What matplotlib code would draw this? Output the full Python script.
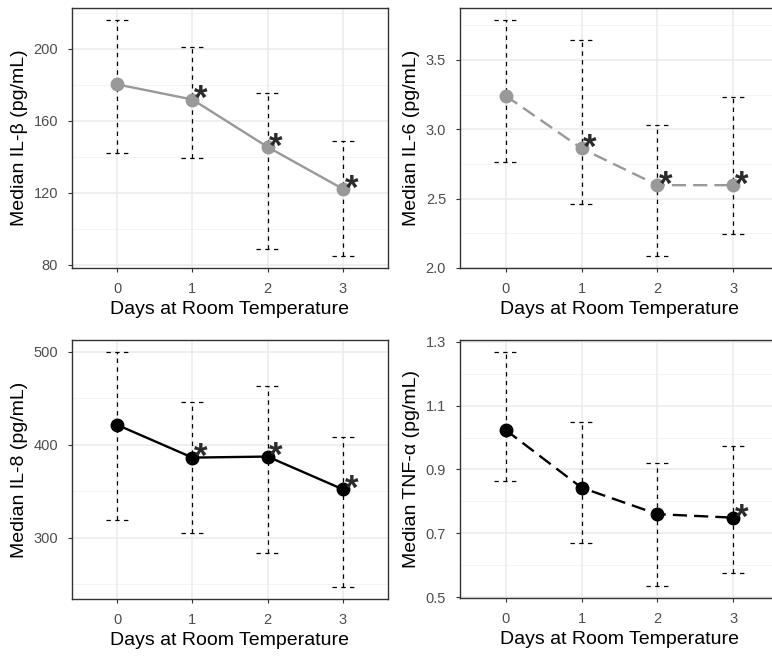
import matplotlib
matplotlib.use("Agg")
import matplotlib.pyplot as plt
import numpy as np

plt.rcParams['font.family'] = ['Liberation Sans', 'DejaVu Sans']

days = [0, 1, 2, 3]
x_ticks = [0, 1, 2, 3]

il1b_med = [180.3, 171.9, 145.5, 122.2]
il1b_lo = [142.3, 139.5, 88.7, 84.8]
il1b_hi = [216.2, 201.3, 175.6, 148.7]
il1b_sig = [False, True, True, True]

il6_med = [3.242, 2.862, 2.597, 2.597]
il6_lo = [2.766, 2.460, 2.087, 2.248]
il6_hi = [3.789, 3.640, 3.030, 3.230]
il6_sig = [False, True, True, True]

il8_med = [421.4, 386.2, 387.3, 352.1]
il8_lo = [319.0, 304.6, 283.8, 246.8]
il8_hi = [500.0, 446.1, 462.7, 408.4]
il8_sig = [False, True, True, True]

tnf_med = [1.024, 0.843, 0.760, 0.749]
tnf_lo = [0.865, 0.671, 0.534, 0.577]
tnf_hi = [1.269, 1.050, 0.921, 0.973]
tnf_sig = [False, False, False, True]

W, H = 772, 656
fig = plt.figure(figsize=(W / 100, H / 100), dpi=100)


def rect(l, r, t, b):
    return [l / W, 1 - b / H, (r - l) / W, (b - t) / H]


panels = [
    dict(pos=rect(72, 388, 8, 268), med=il1b_med, lo=il1b_lo, hi=il1b_hi, sig=il1b_sig,
         color='#999999', ls='solid', ylabel='Median IL-β (pg/mL)',
         yticks=[80, 120, 160, 200], yminor=[100, 140, 180, 220], fmt='{:.0f}'),
    dict(pos=rect(460, 779, 8, 268), med=il6_med, lo=il6_lo, hi=il6_hi, sig=il6_sig,
         color='#999999', ls='dashed', ylabel='Median IL-6 (pg/mL)',
         yticks=[2.0, 2.5, 3.0, 3.5], yminor=[2.25, 2.75, 3.25, 3.75], fmt='{:.1f}'),
    dict(pos=rect(72, 388, 340, 599), med=il8_med, lo=il8_lo, hi=il8_hi, sig=il8_sig,
         color='black', ls='solid', ylabel='Median IL-8 (pg/mL)',
         yticks=[300, 400, 500], yminor=[250, 350, 450], fmt='{:.0f}'),
    dict(pos=rect(460, 779, 340, 598), med=tnf_med, lo=tnf_lo, hi=tnf_hi, sig=tnf_sig,
         color='black', ls='dashed', ylabel='Median TNF-α (pg/mL)',
         yticks=[0.5, 0.7, 0.9, 1.1, 1.3], yminor=[0.6, 0.8, 1.0, 1.2], fmt='{:.1f}'),
]

for p in panels:
    ax = fig.add_axes(p['pos'])
    lo_all = min(p['lo'])
    hi_all = max(p['hi'])
    pad = (hi_all - lo_all) * 0.05
    ax.set_ylim(lo_all - pad, hi_all + pad)
    ax.set_xlim(-0.6, 3.6)
    for v in p['yminor']:
        ax.axhline(v, color='#F2F2F2', lw=0.6, zorder=0)
    for v in p['yticks']:
        ax.axhline(v, color='#EBEBEB', lw=1.1, zorder=0)
    for v in x_ticks:
        ax.axvline(v, color='#EBEBEB', lw=1.1, zorder=0)

    # error bars
    for d, lo, hi in zip(days, p['lo'], p['hi']):
        ax.plot([d, d], [lo, hi], color='black', lw=0.9, dashes=(3.5, 3.5), zorder=2)
        ax.plot([d - 0.15, d + 0.15], [hi, hi], color='black', lw=0.9, dashes=(3.5, 3.5), zorder=2)
        ax.plot([d - 0.15, d + 0.15], [lo, lo], color='black', lw=0.9, dashes=(3.5, 3.5), zorder=2)

    if p['ls'] == 'dashed':
        ax.plot(days, p['med'], color=p['color'], lw=1.7, dashes=(6, 3), zorder=3)
    else:
        ax.plot(days, p['med'], color=p['color'], lw=1.7, zorder=3)
    ax.plot(days, p['med'], 'o', color=p['color'], ms=9, zorder=4)

    for d, m, s in zip(days, p['med'], p['sig']):
        if s:
            ax.annotate('*', (d, m), xytext=(6, -7), textcoords='offset points',
                        ha='center', va='baseline', fontsize=25, color='#2B2B2B',
                        fontweight='bold', zorder=5)

    ax.set_xticks(x_ticks)
    ax.set_xticklabels([str(v) for v in x_ticks])
    ax.set_yticks(p['yticks'])
    ax.set_yticklabels([p['fmt'].format(v) for v in p['yticks']])
    ax.tick_params(axis='both', colors='#333333', labelcolor='#4D4D4D', labelsize=10.5,
                   length=3, width=0.8, pad=7)
    for sp in ax.spines.values():
        sp.set_color('#333333')
        sp.set_linewidth(1.0)
    ax.set_xlabel('Days at Room Temperature', fontsize=14, color='black', labelpad=4)
    ax.set_ylabel(p['ylabel'], fontsize=14, color='black', labelpad=4)
    ax.set_facecolor('white')

fig.savefig('out.png', dpi=100, facecolor='white')
